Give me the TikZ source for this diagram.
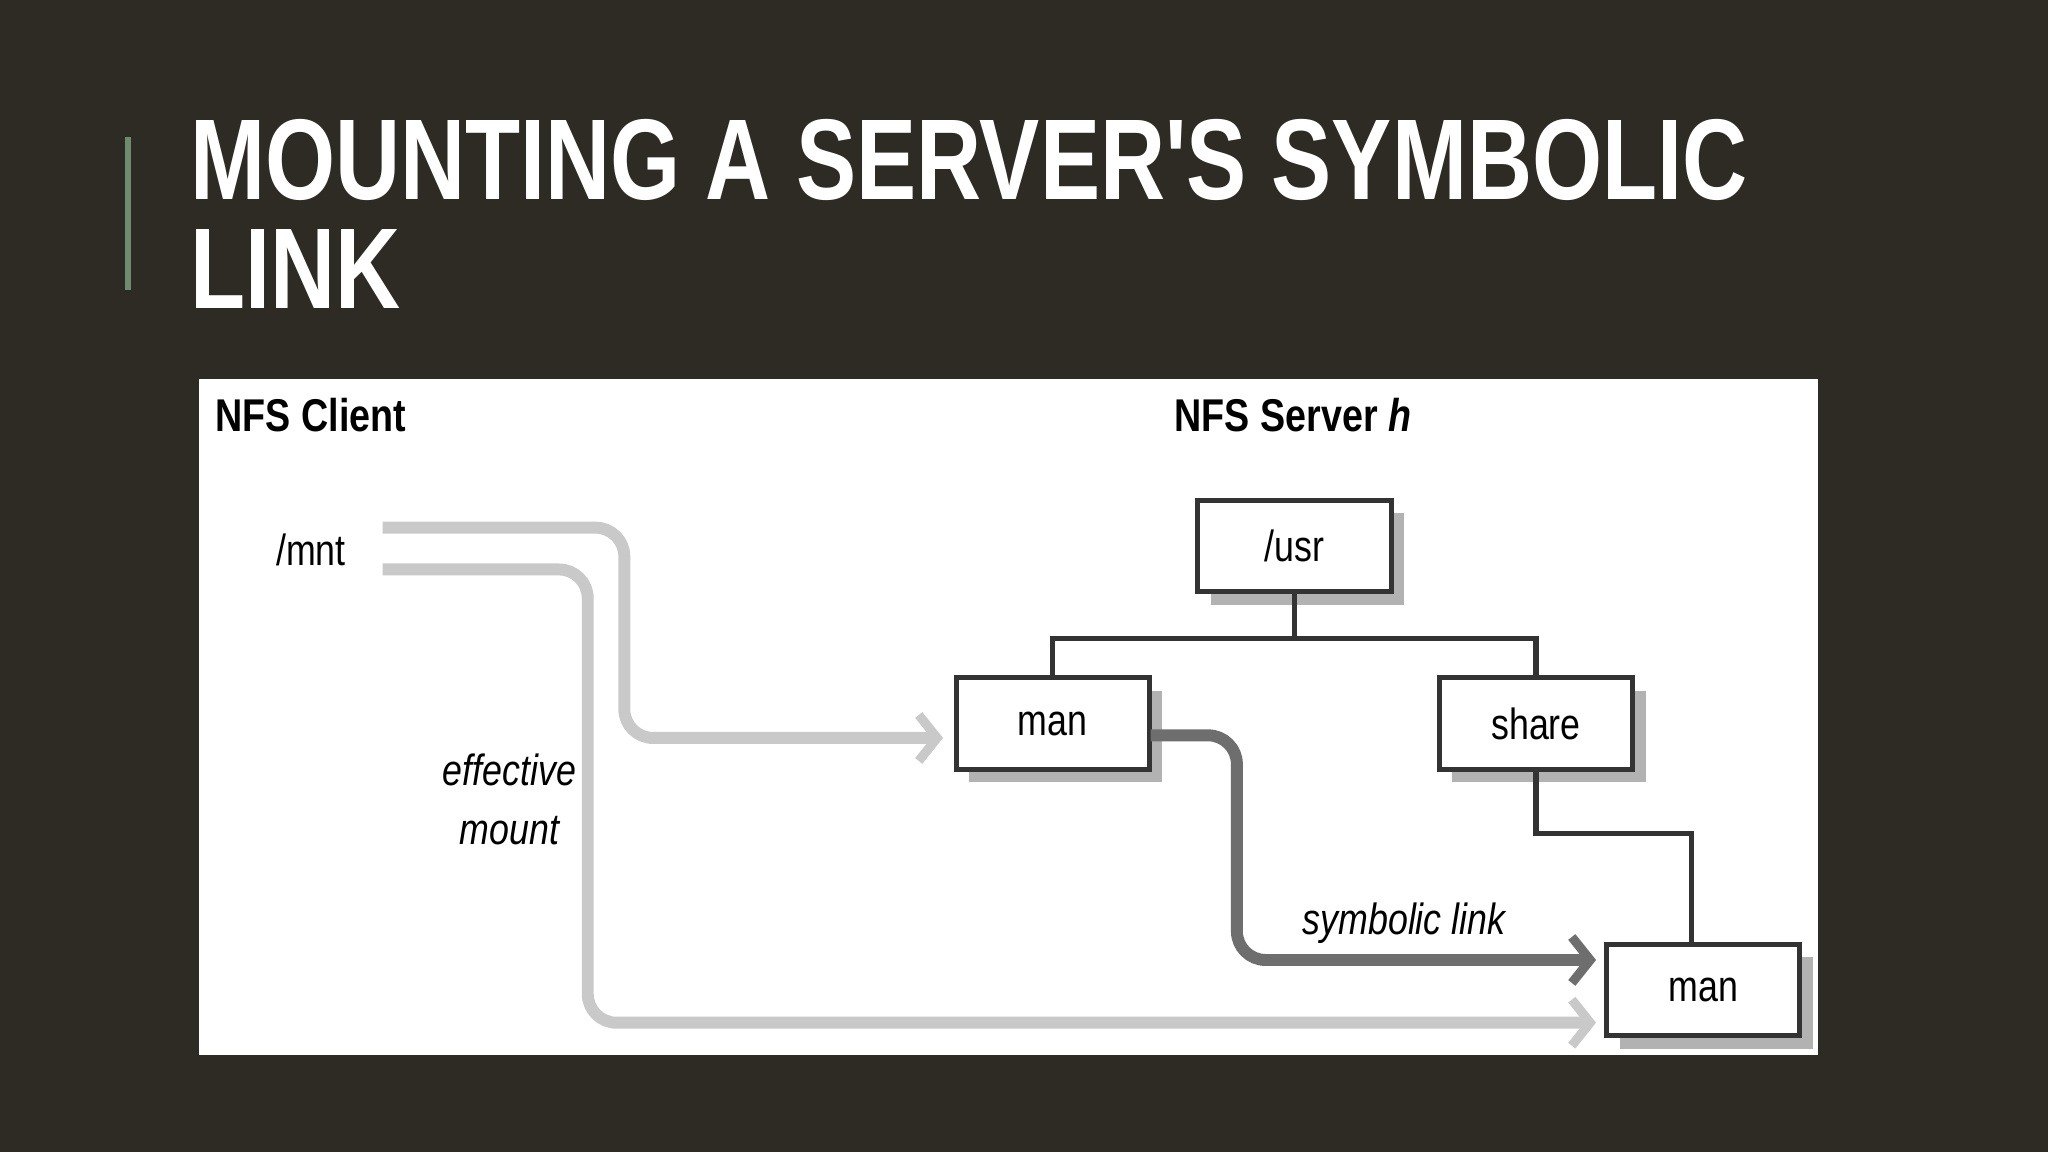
\documentclass[tikz,border=0pt]{standalone}
\usepackage{fontspec}
\setmainfont{Liberation Sans}
\newfontfamily\titlefont{Liberation Sans}
\usetikzlibrary{arrows.meta}
\definecolor{bg}{HTML}{2E2A24}
\definecolor{lite}{HTML}{C9C9C9}
\definecolor{dark}{HTML}{6E6E6E}
\definecolor{bar}{HTML}{6E8A70}
\newcommand{\cnd}[1]{\scalebox{0.82}[1]{#1}}
\begin{document}
\begin{tikzpicture}[x=0.01cm,y=-0.01cm,
  box/.style={draw=black!80,line width=1.1pt,fill=white,minimum width=1.48cm,minimum height=0.7cm,font=\fontsize{9.5}{11}\selectfont,inner sep=0pt},
  shadow/.style={fill=black!30},
  tree/.style={draw=black!80,line width=1.1pt},
  litearr/.style={draw=lite,line width=2.6pt,rounded corners=0.22cm,-{Straight Barb[length=4pt,width=10pt,line width=2pt]}},
  darkarr/.style={draw=dark,line width=2.6pt,rounded corners=0.22cm,-{Straight Barb[length=4pt,width=10pt,line width=2pt]}},
  lab/.style={font=\fontsize{9.5}{11}\selectfont},
  head/.style={font=\bfseries\fontsize{10}{12}\selectfont}]
\fill[bg] (0,0) rectangle (1568,882);
\useasboundingbox (0,0) rectangle (1568,882);
\draw[bar,line width=1.2pt] (98,105) -- (98,222);
\node[anchor=west,text=white,font=\titlefont\bfseries\fontsize{25}{28}\selectfont,align=left,inner sep=0pt] (title) at (145,164) {\scalebox{0.785}[1]{MOUNTING A SERVER'S SYMBOLIC}\\[-0.15cm]\scalebox{0.785}[1]{LINK}};
\fill[white] (152,290) rectangle (1392,808);
% shadows
\fill[shadow] (927,393) rectangle (1075,463);
\fill[shadow] (742,529) rectangle (890,599);
\fill[shadow] (1112,529) rectangle (1260,599);
\fill[shadow] (1240,733) rectangle (1388,803);
\node[box] (usr) at (991,418) {\cnd{/usr}};
\node[box] (man1) at (806,554) {\cnd{man}};
\node[box] (share) at (1176,554) {\cnd{share}};
\node[box] (man2) at (1304,758) {\cnd{man}};
\draw[tree] (usr.south) -- ++(0,34) coordinate (j);
\draw[tree] (man1.north) |- (j) -| (share.north);
\draw[tree] (share.south) |- (1295,638) -- (1295,723);
\node[head] (client) at (238,318) {\cnd{NFS Client}};
\node[head] (server) at (990,318) {\cnd{NFS Server \textit{h}}};
\node[lab] (mnt) at (238,421) {\cnd{/mnt}};
\coordinate (m1) at (293,404);
\coordinate (m2) at (293,436);
\coordinate (ms) at (881,563);
\draw[litearr] (m1) -- (478,404) -- (478,565) -- (722,565);
\draw[litearr] (m2) -- (450,436) -- (450,783) -- (1222,783);
\draw[darkarr] (ms) -- (947,563) -- (947,735) -- (1222,735);
\node[lab,align=center,font=\itshape\fontsize{9.5}{13}\selectfont] (eff) at (390,612) {\cnd{effective}\\\cnd{mount}};
\node[lab,font=\itshape\fontsize{9.5}{11}\selectfont] (sym) at (1075,707) {\cnd{symbolic link}};
\end{tikzpicture}
\end{document}
